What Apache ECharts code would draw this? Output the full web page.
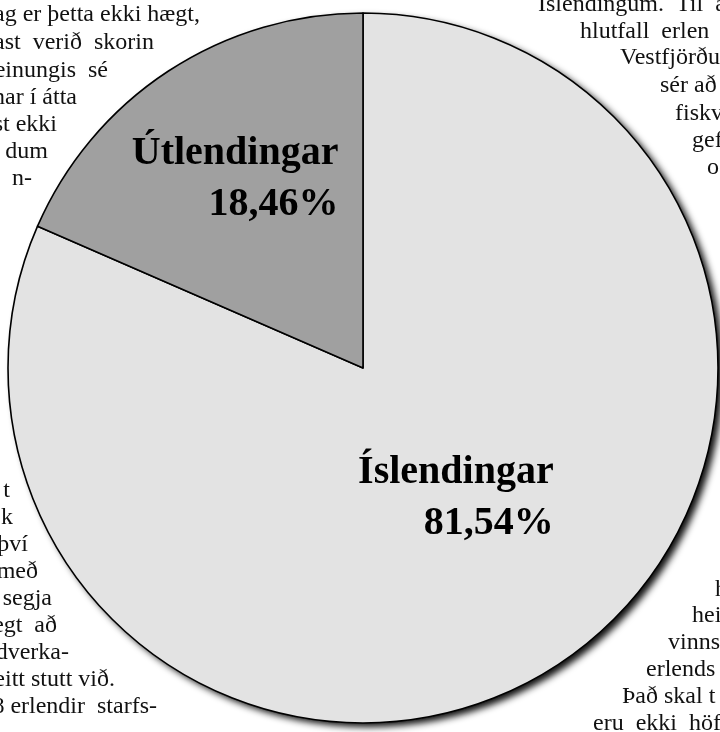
<!DOCTYPE html>
<html>
<head>
<meta charset="utf-8">
<script src="https://cdn.jsdelivr.net/npm/echarts@6/dist/echarts.min.js"></script>
<style>
html,body{margin:0;padding:0;background:#fff;}
#chart{width:720px;height:732px;}
</style>
</head>
<body>
<div id="chart"></div>
<script>
// Chart data
var categories = ['Íslendingar', 'Útlendingar'];
var values = [81.54, 18.46];

// Surrounding newspaper text fragments (content)
var leftTopLines = ['ag er þetta ekki hægt,', 'ast  verið  skorin', 'einungis  sé', 'nar í átta', 'st ekki', 'dum', 'n-'];
var leftBottomLines = ['t', 'k', 'því', 'með', ' segja', 'ægt  að', 'ndverka-', 'eitt stutt við.', '8 erlendir  starfs-'];
var rightTopLines = ['Íslendingum.  Til  a', 'hlutfall  erlen', 'Vestfjörðu', 'sér að', 'fiskv', 'gef', 'og'];
var rightBottomLines = ['h', 'hei', 'vinns', 'erlends', 'Það skal t', 'eru  ekki  höfð'];

// Layout of the text fragments
var leftTopEnds = [200, 154, 108, 77, 57, 48, 32];
var leftTopBase = [22, 50, 78, 105, 132, 159, 186];
var leftBottomEnds = [10, 13, 28, 38, 52, 57, 69, 115, 157];
var leftBottomBase = [498, 525, 552, 579, 606, 633, 660, 687, 714];
var rightTopStarts = [538, 580, 620, 660, 675, 692, 707];
var rightTopBase = [12, 39, 65, 93, 121, 148, 175];
var rightBottomStarts = [715, 692, 668, 646, 622, 593];
var rightBottomBase = [597, 623, 650, 677, 704, 731];

var bodyFont = '24px "Liberation Serif", "Times New Roman", serif';
var graphics = [];
function addLines(lines, xs, bases, align) {
  lines.forEach(function (t, i) {
    graphics.push({
      type: 'text', z: 0, silent: true,
      style: { text: t, x: xs[i], y: bases[i] - 7, font: bodyFont, fill: '#111', textAlign: align, textVerticalAlign: 'middle' }
    });
  });
}
addLines(leftTopLines, leftTopEnds, leftTopBase, 'right');
addLines(leftBottomLines, leftBottomEnds, leftBottomBase, 'right');
addLines(rightTopLines, rightTopStarts, rightTopBase, 'left');
addLines(rightBottomLines, rightBottomStarts, rightBottomBase, 'left');

var colors = ['#e3e3e3', '#a0a0a0'];
var labelShift = [[-6, -21], [-29, -38]];

var chart = echarts.init(document.getElementById('chart'), null, { renderer: 'canvas' });
var pieCenter = [363, 368];
var pieRadius = 355;

chart.setOption({
  animation: false,
  backgroundColor: '#ffffff',
  graphic: graphics,
  series: [
    {
      type: 'pie', silent: true, z: 1,
      center: pieCenter, radius: pieRadius,
      label: { show: false }, labelLine: { show: false },
      itemStyle: { color: '#e3e3e3', shadowBlur: 7, shadowColor: 'rgba(0,0,0,0.95)', shadowOffsetX: 5, shadowOffsetY: 4 },
      data: [{ value: 1, name: '' }]
    },
    {
      type: 'pie', z: 2,
      center: pieCenter, radius: pieRadius,
      startAngle: 90, clockwise: true,
      percentPrecision: 2,
      itemStyle: { borderColor: '#000', borderWidth: 1.6 },
      label: {
        show: true, position: 'inside',
        formatter: function (p) {
          return '{n|' + p.name + '}\n{p|' + p.percent.toFixed(2).replace('.', ',') + '%}';
        },
        rich: {
          n: { fontFamily: '"Liberation Serif", "Times New Roman", serif', fontWeight: 'bold', fontSize: 40, color: '#000', align: 'right', lineHeight: 51 },
          p: { fontFamily: '"Liberation Serif", "Times New Roman", serif', fontWeight: 'bold', fontSize: 40, color: '#000', align: 'right', lineHeight: 51 }
        }
      },
      labelLine: { show: false },
      labelLayout: function (params) {
        var s = labelShift[params.dataIndex];
        return { dx: s[0], dy: s[1] };
      },
      data: categories.map(function (c, i) {
        return { name: c, value: values[i], itemStyle: { color: colors[i] } };
      })
    }
  ]
});
</script>
</body>
</html>
